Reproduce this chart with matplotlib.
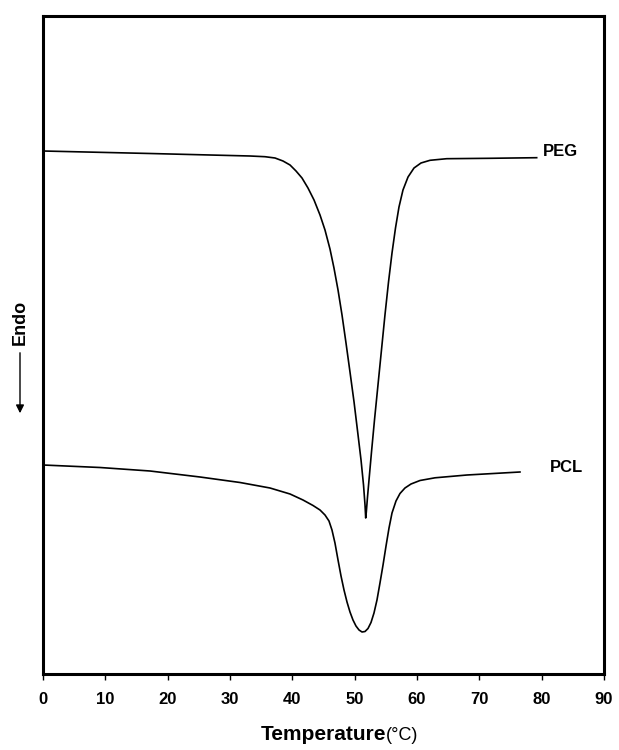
import matplotlib
matplotlib.use("Agg")
import matplotlib.pyplot as plt
from matplotlib.patches import FancyArrowPatch

# =========================
# DATA (heat flow in arbitrary units)
# =========================
peg_temp = [0.00, 17.17, 33.21, 35.61, 37.22, 38.50,
            39.63, 40.59, 41.55, 42.51, 43.48, 44.44, 45.24, 46.04, 46.68, 47.33,
            47.97, 48.61, 49.25, 49.90, 50.54, 51.02, 51.42, 51.66, 51.77,
            51.87, 52.06, 52.30, 52.70, 53.18, 53.74, 54.30, 54.86, 55.43, 55.99,
            56.55, 57.11, 57.75, 58.56, 59.52, 60.64, 62.09, 64.77, 71.71, 79.20]
peg_flow = [52.30, 52.05, 51.80, 51.73, 51.60, 51.30,
            50.90, 50.30, 49.60, 48.60, 47.40, 45.90, 44.40, 42.50, 40.60, 38.40,
            35.90, 33.10, 30.20, 27.20, 23.90, 21.40, 18.90, 16.90, 15.60,
            16.20, 17.70, 19.40, 22.20, 25.40, 28.90, 32.40, 35.90, 39.20, 42.10,
            44.60, 46.70, 48.40, 49.70, 50.60, 51.10, 51.37, 51.53, 51.57, 51.63]

pcl_temp = [0.00, 9.14, 17.17, 25.19, 31.61, 36.42, 39.63, 41.71, 43.32, 44.44,
            45.24, 45.88, 46.36, 46.84, 47.33, 47.81, 48.29, 48.77, 49.25, 49.73,
            50.21, 50.70, 51.18, 51.66, 52.14, 52.62, 53.10, 53.58, 54.06, 54.55,
            55.03, 55.51, 55.99, 56.63, 57.27, 58.07, 59.04, 60.48, 62.89, 68.02, 76.52]
pcl_flow = [20.90, 20.65, 20.30, 19.70, 19.15, 18.60, 18.00, 17.40, 16.85, 16.40,
            15.90, 15.30, 14.40, 13.10, 11.40, 9.80, 8.40, 7.20, 6.20, 5.40,
            4.80, 4.40, 4.20, 4.25, 4.55, 5.15, 6.10, 7.40, 9.10, 10.90,
            12.80, 14.60, 16.10, 17.30, 18.05, 18.60, 19.00, 19.35, 19.62, 19.90, 20.20]

x_ticks = [0, 10, 20, 30, 40, 50, 60, 70, 80, 90]

# =========================
# FIGURE
# =========================
plt.rcParams["font.family"] = ["Liberation Sans", "DejaVu Sans"]

fig = plt.figure(figsize=(6.19, 7.5), dpi=100)
ax = fig.add_axes([43 / 619, 1 - 674 / 750, 561 / 619, 658 / 750])

ax.plot(peg_temp, peg_flow, color="black", linewidth=1.2, solid_joinstyle="round")
ax.plot(pcl_temp, pcl_flow, color="black", linewidth=1.2, solid_joinstyle="round")

ax.text(80.2, 52.2, "PEG", fontsize=12, fontweight="bold", va="center", ha="left")
ax.text(81.3, 20.6, "PCL", fontsize=12, fontweight="bold", va="center", ha="left")

ax.set_xlim(0, 90)
ax.set_ylim(0, 65.8)
ax.set_xticks(x_ticks)
ax.set_yticks([])
ax.tick_params(axis="x", direction="out", length=4, width=1, pad=9, labelsize=12)
for lbl in ax.get_xticklabels():
    lbl.set_fontweight("bold")
for sp in ax.spines.values():
    sp.set_linewidth(2.2)

# x label: bold word + plain unit
fig.text(386 / 619, 1 - 735 / 750, "Temperature", fontsize=15, fontweight="bold",
         ha="right", va="center")
fig.text(386 / 619, 1 - 735 / 750, "(°C)", fontsize=13, ha="left", va="center")

# Endo label with down arrow
fig.text(20 / 619, 1 - 322 / 750, "Endo", fontsize=13, fontweight="bold",
         rotation=90, ha="center", va="center")
fig.add_artist(FancyArrowPatch(
    (20 / 619, 1 - 350 / 750), (20 / 619, 1 - 416 / 750),
    transform=fig.transFigure, arrowstyle="-|>", mutation_scale=12,
    color="black", linewidth=1.0))

fig.savefig("out.png", dpi=100)
